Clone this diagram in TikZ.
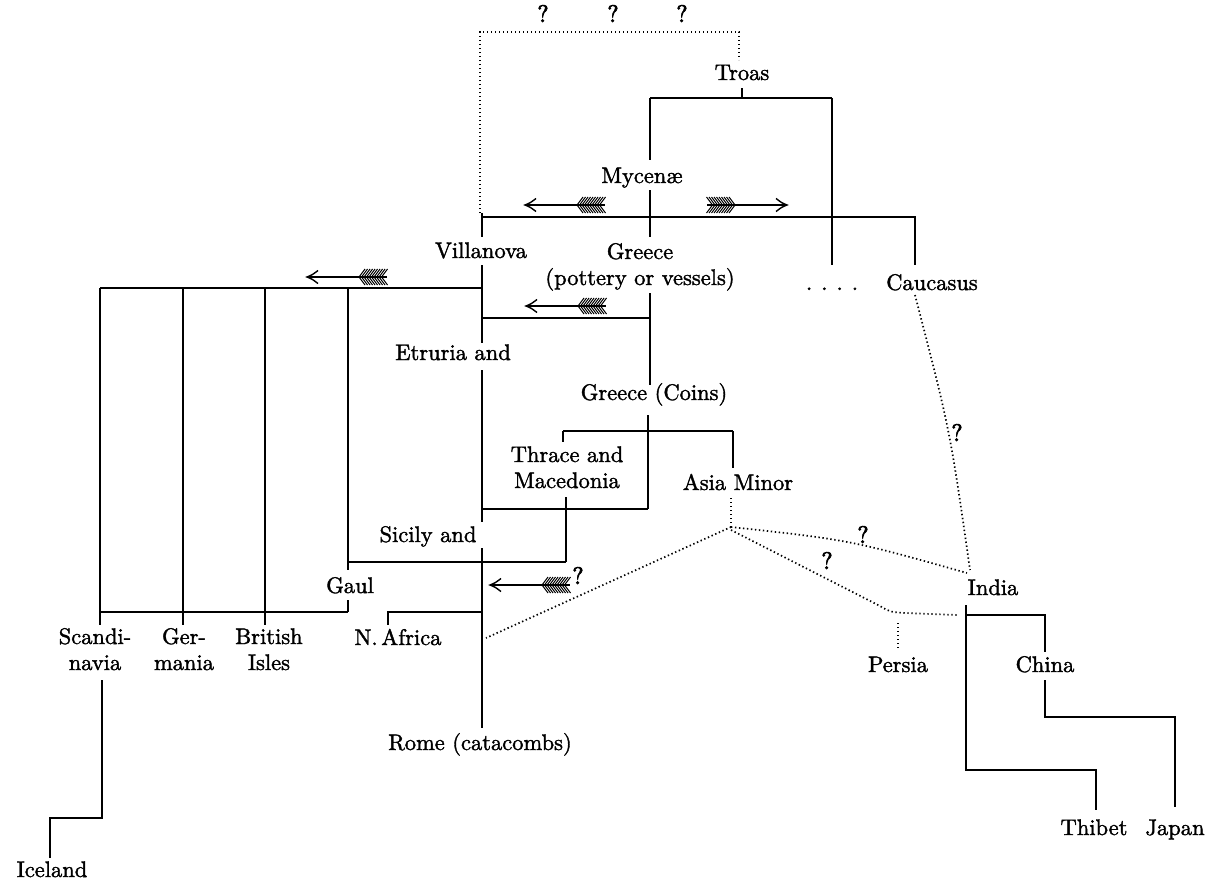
\documentclass[tikz,border=0pt]{standalone}
\usetikzlibrary{arrows.meta}
\DeclareFontFamily{TU}{lmten}{}
\DeclareFontShape{TU}{lmten}{m}{n}{<-> "[lmroman10-regular]:+tlig;embolden=1.6"}{}
\DeclareFontFamily{TU}{lmtenb}{}
\DeclareFontShape{TU}{lmtenb}{m}{n}{<-> "[lmroman10-regular]:+tlig;embolden=3"}{}
\begin{document}
\begin{tikzpicture}[x=1pt,y=-1pt,
  lbl/.style={font=\fontfamily{lmten}\fontsize{22.5}{26}\selectfont, inner sep=0pt, anchor=base, align=center},
  qm/.style={font=\fontfamily{lmtenb}\fontsize{24}{26}\selectfont, inner sep=0pt, anchor=base},
  ln/.style={line width=1.7pt},
  dl/.style={line width=1.7pt, dash pattern=on 1.4pt off 2.6pt},
  farrow/.pic={
    \draw[line width=1.4pt] (0,0) -- (80,0);
    \draw[line width=1.4pt] (11,-6.5) .. controls (5,-2) .. (0,0) .. controls (5,2) .. (11,6.5);
    \foreach \i in {52,54.5,...,76} {
      \draw[line width=1pt] (\i,0) -- ++(6,-8);
      \draw[line width=1pt] (\i,0) -- ++(6,8);
    }
  }]
\useasboundingbox (0,0) rectangle (1212,883);

% ---------- labels ----------
\node[lbl] (troas) at (742,80) {Troas};
\node[lbl] (myc) at (642,183) {Mycenæ};
\node[lbl] (villa) at (481,258) {Villanova};
\node[lbl] (greeceP) at (640,285) {Greece\\(pottery or vessels)};
\node[lbl] (dots) at (832,290) {.\hspace{9pt}.\hspace{9pt}.\hspace{9pt}.};
\node[lbl] (cauc) at (932,290) {Caucasus};
\node[lbl] (etr) at (453,360) {Etruria and};
\node[lbl] (greeceC) at (654,400) {Greece (Coins)};
\node[lbl] (thrace) at (567,488) {Thrace and\\Macedonia};
\node[lbl] (asia) at (738,490) {Asia Minor};
\node[lbl] (sicily) at (428,542) {Sicily and};
\node[lbl] (gaul) at (350,593) {Gaul};
\node[lbl] (scand) at (95,670) {Scandi-\\navia};
\node[lbl] (germ) at (184,670) {Ger-\\mania};
\node[lbl] (brit) at (269,670) {British\\Isles};
\node[lbl] (nafr) at (398,645) {N.\,Africa};
\node[lbl] (rome) at (480,750) {Rome (catacombs)};
\node[lbl] (iceland) at (52,877) {Iceland};
\node[lbl] (india) at (993,595) {India};
\node[lbl] (persia) at (898,672) {Persia};
\node[lbl] (china) at (1045,672) {China};
\node[lbl] (thibet) at (1094,835) {Thibet};
\node[lbl] (japan) at (1175,835) {Japan};

\node[qm] (q1) at (543,22) {?};
\node[qm] (q2) at (613,22) {?};
\node[qm] (q3) at (682,22) {?};
\node[qm] (q4) at (957,441) {?};
\node[qm] (q5) at (863,543) {?};
\node[qm] (q6) at (827,569) {?};
\node[qm] (q7) at (578,584) {?};

% ---------- junction coordinates ----------
\coordinate (tl) at (650,98);
\coordinate (tr) at (832,98);
\coordinate (mj) at (650,217);
\coordinate (vj) at (482,217);
\coordinate (cj) at (915,217);
\coordinate (wl) at (100,288);
\coordinate (wr) at (482,288);
\coordinate (gj) at (650,318);
\coordinate (ej) at (482,318);
\coordinate (cl) at (563,431);
\coordinate (cr) at (733,431);
\coordinate (cm) at (648,431);
\coordinate (sj) at (648,509);
\coordinate (sl) at (482,509);
\coordinate (mj2) at (566,562);
\coordinate (gaulj) at (348,562);
\coordinate (bl) at (100,612);
\coordinate (br) at (348,612);
\coordinate (nl) at (388,612);
\coordinate (nr) at (482,612);
\coordinate (am) at (731,527);
\coordinate (ij) at (966,615);
\coordinate (chj) at (1045,615);

% ---------- solid connectors ----------
\draw[ln] (742,88) -- (742,98);
\draw[ln] (tl) -- (tr);
\draw[ln] (tl) -- (650,160);
\draw[ln] (tr) -- (832,265);
\draw[ln] (650,190) -- (650,237);
\draw[ln] (vj) -- (cj) -- (915,265);
% Villanova trunk
\draw[ln] (482,213) -- (482,237);
\draw[ln] (482,265) -- (482,343);
\draw[ln] (482,370) -- (482,522);
\draw[ln] (482,548) -- (482,728);
% westward line
\draw[ln] (wl) -- (wr);
\draw[ln] (wl) -- (100,625);
\draw[ln] (183,288) -- (183,625);
\draw[ln] (265,288) -- (265,625);
\draw[ln] (348,288) -- (gaulj) -- (348,570);
\draw[ln] (348,600) -- (br);
\draw[ln] (bl) -- (br);
% Greece pottery
\draw[ln] (650,293) -- (650,385);
\draw[ln] (ej) -- (gj);
% Greece coins
\draw[ln] (648,415) -- (sj);
\draw[ln] (cl) -- (cr);
\draw[ln] (cl) -- (563,442);
\draw[ln] (cr) -- (733,468);
\draw[ln] (sl) -- (sj);
\draw[ln] (566,497) -- (mj2);
\draw[ln] (gaulj) -- (mj2);
% N. Africa
\draw[ln] (nr) -- (nl) -- (388,625);
% Scandinavia -> Iceland
\draw[ln] (102,680) -- (102,818) -- (50,818) -- (50,858);
% India group
\draw[ln] (966,605) -- (966,770) -- (1096,770) -- (1096,810);
\draw[ln] (ij) -- (chj) -- (1045,652);
\draw[ln] (1045,680) -- (1045,717) -- (1175,717) -- (1175,807);

% ---------- dotted connectors ----------
\draw[dl] (480,213) -- (480,32) -- (739,32) -- (739,60);
\draw[dl] (915,295) .. controls (950,430) .. (970,570);
\draw[dl] (731,498) -- (am);
\draw[dl] (am) -- (486,638);
\draw[dl] (am) .. controls (850,540) .. (967,573);
\draw[dl] (731,530) -- (880,606) .. controls (890,612) .. (905,613) -- (957,615);
\draw[dl] (898,623) -- (898,648);

% ---------- feathered arrows ----------
\pic at (525,205) {farrow};
\pic[xscale=-1] at (787,205) {farrow};
\pic at (307,277) {farrow};
\pic at (526,306) {farrow};
\pic at (490,585) {farrow};
\end{tikzpicture}
\end{document}
